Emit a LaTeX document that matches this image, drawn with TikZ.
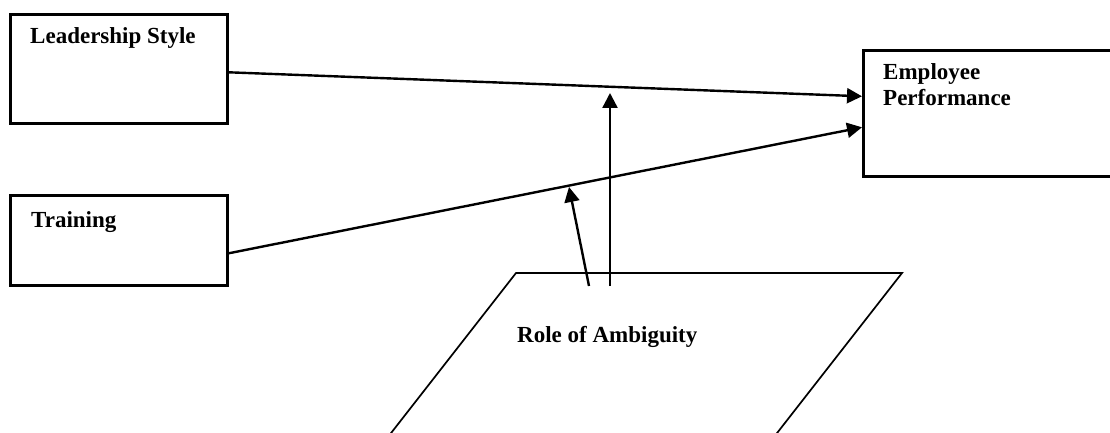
\documentclass[tikz,border=0pt]{standalone}
\usepackage{fontspec}
\setmainfont{Liberation Serif}
\usetikzlibrary{calc, positioning, arrows.meta}

\begin{document}
\begin{tikzpicture}[
  x=1pt, y=-1pt,
  varbox/.style={draw=black, line width=2.6pt, minimum width=217pt,
    minimum height=109pt, inner sep=0pt, anchor=north west},
  varlabel/.style={font=\fontsize{23}{26}\selectfont\bfseries, inner sep=0pt,
    anchor=base west, align=left},
  link/.style={line width=2.4pt, -{Triangle[length=15pt, width=15pt]}},
]
  \useasboundingbox (0,0) rectangle (1110,433);
  \clip (0,0) rectangle (1110,433);

  % independent variables
  \node[varbox] (lead) at (9,13) {};
  \node[varlabel] (leadtxt) at (30,44) {Leadership Style};
  \node[varbox, minimum height=90pt] (train) at (9,194) {};
  \node[varlabel] (traintxt) at (31,227) {Training};

  % dependent variable
  \node[varbox, minimum width=260pt, minimum height=126pt] (emp) at (862,49) {};
  \node[varlabel, anchor=north west] (emptxt) at (883,63) {Employee\\Performance};

  % moderator
  \coordinate (rbl) at (370,460);
  \coordinate (rtl) at (516,273);
  \coordinate (rtr) at (902,273);
  \coordinate (rbr) at (756,460);
  \draw[line width=1.7pt] (rbl) -- (rtl) -- (rtr) -- (rbr);
  \node[varlabel] (role) at (517,342) {Role of Ambiguity};

  % direct effects
  \draw[link] ([yshift=-3.5pt]lead.east) -- ([yshift=17pt]emp.west);
  \draw[link] ([yshift=-13pt]train.east) -- ([yshift=-14pt]emp.west);

  % moderating effects
  \coordinate (m1s) at (589,286);
  \coordinate (m1e) at (569,187);
  \coordinate (m2s) at (610,286);
  \coordinate (m2e) at (610,93);
  \draw[link] (m1s) -- (m1e);
  \draw[link] (m2s) -- (m2e);
\end{tikzpicture}
\end{document}
